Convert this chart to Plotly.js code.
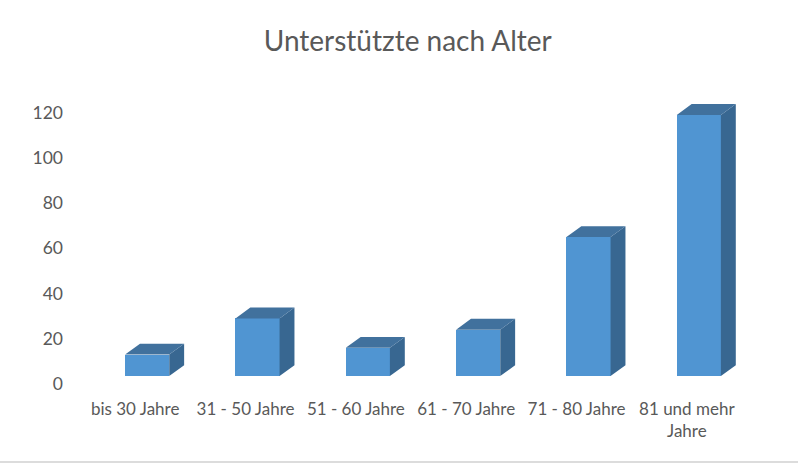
<!DOCTYPE html>
<html>
<head>
<meta charset="utf-8">
<script src="https://cdn.plot.ly/plotly-3.0.1.min.js"></script>
<style>html,body{margin:0;padding:0;background:#fff;}#chart{width:798px;height:463px;}</style>
</head>
<body>
<div id="chart"></div>
<script>
// Data
const categories = ["bis 30 Jahre", "31 - 50 Jahre", "51 - 60 Jahre", "61 - 70 Jahre", "71 - 80 Jahre", "81 und mehr<br>Jahre"];
const values = [13, 29, 16, 24, 65, 119];
const yTicks = [0, 20, 40, 60, 80, 100, 120];

// 3D styling constants (not data)
const FLOOR = 3.5;      // visual floor of the 3D front faces
const HALF_W = 0.2;     // half bar width in category units
const DX = 0.135;       // depth offset, x (category units)
const DY = 4.8;         // depth offset, y (value units)
const FRONT = "#5095d2", TOP = "#41719d", SIDE = "#386791";

const idx = categories.map((_, i) => i);

const topX = [], topY = [], sideX = [], sideY = [];
idx.forEach(i => {
  const v = values[i];
  topX.push(i - HALF_W, i + HALF_W, i + HALF_W + DX, i - HALF_W + DX, i - HALF_W, null);
  topY.push(v, v, v + DY, v + DY, v, null);
  sideX.push(i + HALF_W, i + HALF_W, i + HALF_W + DX, i + HALF_W + DX, i + HALF_W, null);
  sideY.push(FLOOR, v, v + DY, FLOOR + DY, FLOOR, null);
});

const traces = [
  {type: "bar", x: idx, y: values.map(v => v - FLOOR), base: FLOOR, width: 2 * HALF_W,
   marker: {color: FRONT, line: {width: 0}}, hoverinfo: "skip", showlegend: false},
  {type: "scatter", mode: "lines", x: sideX, y: sideY, fill: "toself", fillcolor: SIDE,
   line: {width: 0, color: SIDE}, hoverinfo: "skip", showlegend: false},
  {type: "scatter", mode: "lines", x: topX, y: topY, fill: "toself", fillcolor: TOP,
   line: {width: 0, color: TOP}, hoverinfo: "skip", showlegend: false}
];

const layout = {
  width: 798, height: 463,
  margin: {l: 92, r: 44, t: 90, b: 79},
  paper_bgcolor: "#ffffff", plot_bgcolor: "#ffffff",
  font: {family: "Lato, 'Open Sans', sans-serif", color: "#595959", size: 16},
  title: {text: "Unterstützte nach Alter", x: 0.511, xref: "container", xanchor: "center",
          y: 1 - 41/463, yref: "container", yanchor: "middle",
          font: {family: "Lato, 'Open Sans', sans-serif", size: 28, color: "#595959"}},
  xaxis: {range: [-0.5, 5.5], tickvals: idx, ticktext: categories, showgrid: false,
          zeroline: false, showline: false, ticks: "", ticklabelshift: -12, ticklabelstandoff: 13,
          tickfont: {size: 17, color: "#595959"}, fixedrange: true},
  yaxis: {range: [0, 130], tickvals: yTicks, showgrid: false, zeroline: false, showline: false,
          ticks: "", ticklabelstandoff: 28, tickfont: {size: 17.5, color: "#595959"}, fixedrange: true},
  shapes: [{type: "line", xref: "paper", yref: "paper", x0: -0.2, x1: 1.1,
            y0: (384 - 462) / 294, y1: (384 - 462) / 294, line: {color: "#d0d0d0", width: 1.5}}],
  bargap: 0
};

Plotly.newPlot("chart", traces, layout, {displayModeBar: false, staticPlot: true});
</script>
</body>
</html>
